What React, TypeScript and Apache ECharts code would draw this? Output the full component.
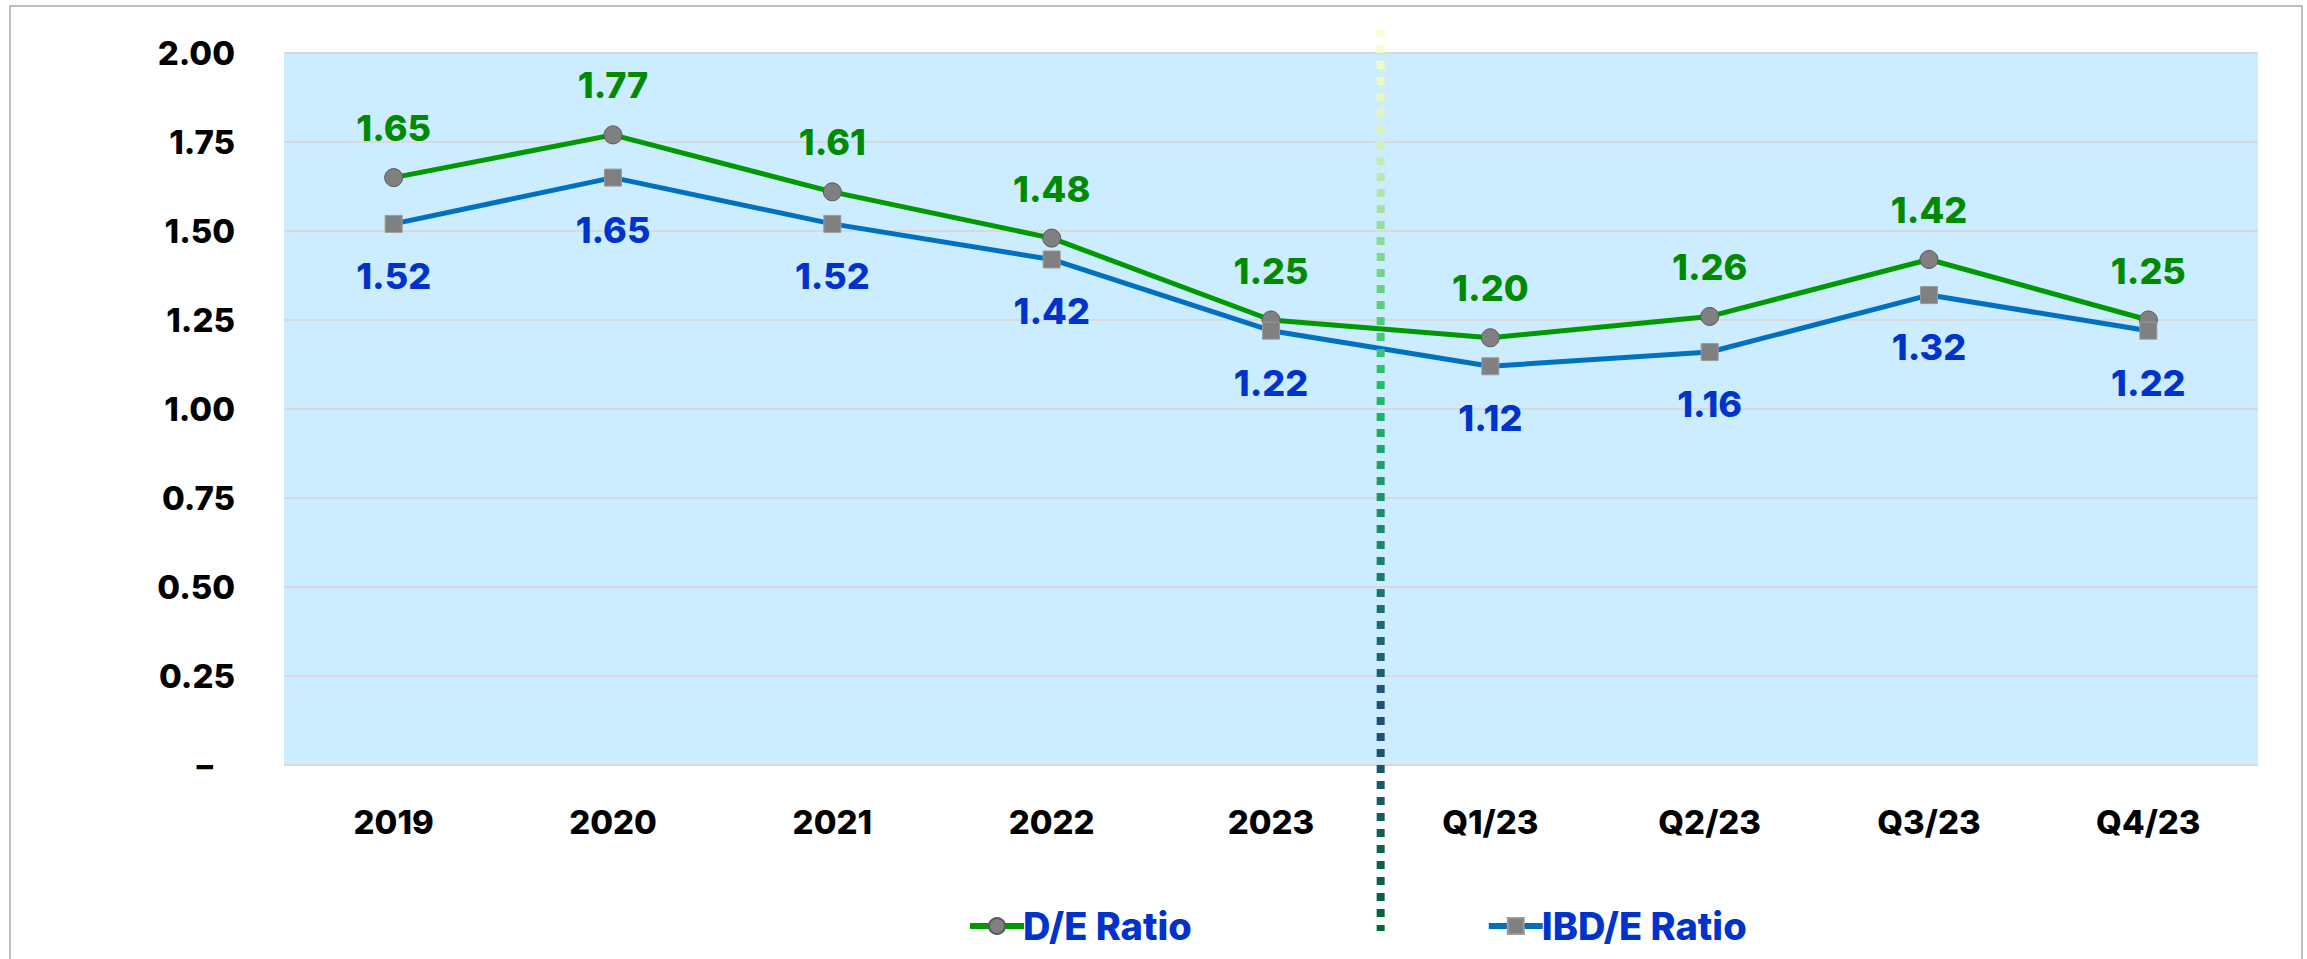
import React, { useEffect, useRef } from "react";
import * as echarts from "echarts";

const categories = ["2019", "2020", "2021", "2022", "2023", "Q1/23", "Q2/23", "Q3/23", "Q4/23"];
const deRatio = [1.65, 1.77, 1.61, 1.48, 1.25, 1.2, 1.26, 1.42, 1.25];
const ibdRatio = [1.52, 1.65, 1.52, 1.42, 1.22, 1.12, 1.16, 1.32, 1.22];
const seriesNames = ["D/E Ratio", "IBD/E Ratio"];
const yMin = 0;
const yMax = 2;
const yInterval = 0.25;

const FONT = 'Inter, "Noto Sans", sans-serif';
const W = 800;

export default function App() {
  const ref = useRef<HTMLDivElement>(null);
  useEffect(() => {
    if (!ref.current) return;
    const chart = echarts.init(ref.current, null, { renderer: "svg" });
    const option: any = {
      animation: false,
      backgroundColor: "#ffffff",
      textStyle: { fontFamily: FONT },
      grid: {
        left: 284,
        right: 49,
        top: 53,
        bottom: 194,
        show: true,
        backgroundColor: "#CCECFF",
        borderWidth: 0,
      },
      xAxis: {
        type: "category",
        data: categories,
        boundaryGap: true,
        axisLine: { show: false },
        axisTick: { show: false },
        axisLabel: {
          color: "#000000",
          fontFamily: FONT,
          fontWeight: W,
          fontSize: 33,
          margin: 40,
        },
      },
      yAxis: {
        type: "value",
        min: yMin,
        max: yMax,
        interval: yInterval,
        axisLine: { show: false },
        axisTick: { show: false },
        splitLine: { show: true, lineStyle: { color: "#D9D9D9", width: 2 } },
        axisLabel: {
          color: "#000000",
          fontFamily: FONT,
          fontWeight: W,
          fontSize: 33,
          margin: 49,
          formatter: (v: number) => (v === 0 ? "{z|–}" : v.toFixed(2)),
          rich: {
            z: {
              color: "#000000",
              fontFamily: FONT,
              fontWeight: W,
              fontSize: 33,
              padding: [0, 22, 0, 0],
            },
          },
        },
      },
      legend: {
        show: true,
        left: 962,
        top: 902,
        itemGap: 294,
        itemWidth: 54,
        itemHeight: 20,
        lineStyle: { width: 6 },
        textStyle: {
          color: "#0033CC",
          fontFamily: FONT,
          fontWeight: W,
          fontSize: 38,
          padding: [0, 0, 0, -6],
        },
        data: seriesNames,
      },
      graphic: [
        {
          id: "frame",
          type: "rect",
          silent: true,
          shape: { x: 10, y: 6, width: 2292, height: 1000 },
          style: { fill: "none", stroke: "#BFBFBF", lineWidth: 2 },
          z: 100,
        },
      ],
      series: [
        {
          name: seriesNames[0],
          type: "line",
          data: deRatio,
          symbol: "circle",
          symbolSize: 18,
          lineStyle: { color: "#009900", width: 5 },
          itemStyle: { color: "#808080", borderColor: "#5A5A5A", borderWidth: 1 },
          label: {
            show: true,
            position: "top",
            distance: 22,
            color: "#008A00",
            fontFamily: FONT,
            fontWeight: W,
            fontSize: 36,
            formatter: (p: any) => Number(p.value).toFixed(2),
          },
          z: 3,
        },
        {
          name: seriesNames[1],
          type: "line",
          data: ibdRatio,
          symbol: "rect",
          symbolSize: 17,
          lineStyle: { color: "#0070C0", width: 5 },
          itemStyle: { color: "#808080", borderColor: "#9A9A9A", borderWidth: 1 },
          label: {
            show: true,
            position: "bottom",
            distance: 25,
            color: "#0033CC",
            fontFamily: FONT,
            fontWeight: W,
            fontSize: 36,
            formatter: (p: any) => Number(p.value).toFixed(2),
          },
          z: 4,
        },
      ],
    };
    chart.setOption(option);

    const xa = chart.convertToPixel({ xAxisIndex: 0 }, categories[4]) as number;
    const xb = chart.convertToPixel({ xAxisIndex: 0 }, categories[5]) as number;
    const xm = (xa + xb) / 2;
    const y1 = 29;
    const y2 = 931;
    chart.setOption({
      graphic: [
        {
          id: "divider",
          type: "line",
          silent: true,
          shape: { x1: xm, y1, x2: xm, y2 },
          style: {
            lineWidth: 8,
            lineDash: [8, 8],
            stroke: new echarts.graphic.LinearGradient(
              xm,
              y1,
              xm,
              y2,
              [
                { offset: 0, color: "#FFFFCC" },
                { offset: 0.12, color: "#D8F2B8" },
                { offset: 0.25, color: "#80D890" },
                { offset: 0.4, color: "#22BB66" },
                { offset: 0.52, color: "#1A9466" },
                { offset: 0.65, color: "#1A7070" },
                { offset: 0.76, color: "#1F4E79" },
                { offset: 0.86, color: "#175C60" },
                { offset: 1, color: "#006633" },
              ],
              true
            ),
          },
          z: 50,
        },
      ],
    });

    return () => {
      chart.dispose();
    };
  }, []);
  return (
    <div
      ref={ref}
      style={{ position: "absolute", left: 0, top: 0, width: 2307, height: 959 }}
    />
  );
}
